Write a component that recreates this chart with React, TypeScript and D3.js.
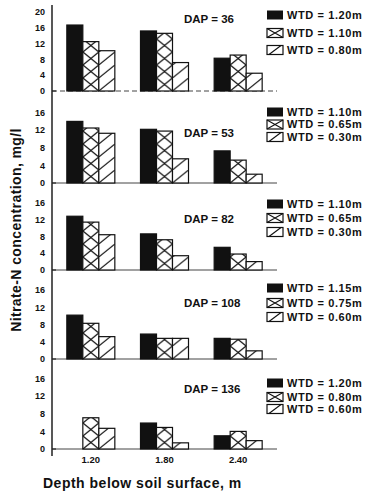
import React, { useRef, useEffect } from 'react';
import * as d3 from 'd3';

const depths = ['1.20', '1.80', '2.40'];
const daps = [36, 53, 82, 108, 136];
const series = ['high', 'mid', 'low'];
const wtdLabels = [
  ['1.20', '1.10', '0.80'],
  ['1.10', '0.65', '0.30'],
  ['1.10', '0.65', '0.30'],
  ['1.15', '0.75', '0.60'],
  ['1.20', '0.80', '0.60']
];
// nitrate-N, mg/l, per panel, per depth
const highValues = [
  [16.7, 15.2, 8.3],
  [14.0, 12.2, 7.3],
  [12.8, 8.6, 5.4],
  [10.2, 5.8, 4.8],
  [0, 5.9, 3.0]
];
const midValues = [
  [12.5, 14.6, 9.1],
  [12.5, 11.8, 5.2],
  [11.4, 7.2, 3.8],
  [8.3, 4.8, 4.6],
  [7.1, 4.9, 4.0]
];
const lowValues = [
  [10.2, 7.2, 4.5],
  [11.3, 5.5, 2.0],
  [8.4, 3.4, 2.0],
  [5.2, 4.8, 1.9],
  [4.7, 1.4, 1.9]
];
const yTicksTop = [0, 4, 8, 12, 16, 20];
const yTicks = [0, 4, 8, 12, 16];

const width = 373;
const height = 497;
const axisX = 52;
const panelBase = [91, 183, 270, 359, 449];
const panelUnit = [3.95, 4.4, 4.2, 4.3, 4.4];
const dapOffset = [68, 46, 47, 52, 56];
const legendRows = [
  [15, 33, 50],
  [112, 124.5, 137],
  [204, 218, 232],
  [288, 303, 317],
  [383, 397, 409]
];
const font = '"Liberation Sans", Arial, sans-serif';

const NitrateChart = () => {
  const svgRef = useRef(null);

  useEffect(() => {
    const svg = d3.select(svgRef.current);
    svg.selectAll('*').remove();
    svg.attr('width', width).attr('height', height).attr('viewBox', `0 0 ${width} ${height}`);
    const defs = svg.append('defs');

    const xScale = d3.scaleBand().domain(depths).range([54, 275]);
    const xSub = d3.scaleBand().domain(series).range([0, 48]);
    const barW = xSub.bandwidth();
    const groupX = d => xScale(d) + xScale.bandwidth() / 2 - 24;

    const allValues = [highValues, midValues, lowValues];

    // y axis line
    svg.append('line')
      .attr('x1', axisX).attr('x2', axisX)
      .attr('y1', 5).attr('y2', 456)
      .attr('stroke', '#111').attr('stroke-width', 1.4);

    daps.forEach((dap, i) => {
      const base = panelBase[i];
      const yScale = d3.scaleLinear().domain([0, 20]).range([base, base - 20 * panelUnit[i]]);
      const g = svg.append('g');

      const ticks = i === 0 ? yTicksTop : yTicks;
      g.selectAll('text.tick')
        .data(ticks)
        .enter()
        .append('text')
        .attr('class', 'tick')
        .attr('x', 45)
        .attr('y', d => yScale(d))
        .attr('dy', '0.35em')
        .attr('text-anchor', 'end')
        .style('font', `bold 9px ${font}`)
        .attr('fill', '#111')
        .text(d => d);

      g.append('line')
        .attr('x1', axisX).attr('x2', 277)
        .attr('y1', base).attr('y2', base)
        .attr('stroke', '#444').attr('stroke-width', 1)
        .attr('stroke-dasharray', i === 0 ? '5,3' : null);
      g.append('line')
        .attr('x1', axisX).attr('x2', axisX + 4)
        .attr('y1', base).attr('y2', base)
        .attr('stroke', '#111');

      const bars = [];
      series.forEach((s, si) => {
        depths.forEach((d, di) => {
          bars.push({ s, si, d, di, v: allValues[si][i][di] });
        });
      });

      bars.forEach(b => {
        if (b.si === 0) return;
        const id = `p-${i}-${b.si}-${b.di}`;
        const bx = groupX(b.d) + xSub(b.s);
        const pat = defs.append('pattern')
          .attr('id', id)
          .attr('patternUnits', 'userSpaceOnUse')
          .attr('x', bx).attr('y', base)
          .attr('width', barW).attr('height', 13);
        pat.append('rect').attr('width', barW).attr('height', 13).attr('fill', '#fff');
        if (b.si === 1) {
          pat.append('path')
            .attr('d', `M0,0L${barW},13M${barW},0L0,13`)
            .attr('stroke', '#111').attr('stroke-width', 1.3).attr('fill', 'none');
        } else {
          pat.append('path')
            .attr('d', `M0,13L${barW},0`)
            .attr('stroke', '#111').attr('stroke-width', 1.1).attr('fill', 'none');
        }
      });

      g.selectAll('rect.bar')
        .data(bars.filter(b => b.v > 0))
        .enter()
        .append('rect')
        .attr('class', 'bar')
        .attr('x', b => groupX(b.d) + xSub(b.s))
        .attr('y', b => yScale(b.v))
        .attr('width', barW)
        .attr('height', b => base - yScale(b.v))
        .attr('fill', b => (b.si === 0 ? '#111' : `url(#p-${i}-${b.si}-${b.di})`))
        .attr('stroke', '#111')
        .attr('stroke-width', 1.2);

      g.append('text')
        .attr('x', 184)
        .attr('y', base - dapOffset[i])
        .style('font', `bold 11.5px ${font}`)
        .attr('fill', '#111')
        .text(`DAP = ${dap}`);

      // legend
      legendRows[i].forEach((ly, si) => {
        const lx = 267;
        if (si === 0) {
          g.append('rect').attr('x', lx).attr('y', ly - 4.5).attr('width', 16).attr('height', 9).attr('fill', '#111');
        } else {
          g.append('rect').attr('x', lx).attr('y', ly - 4.5).attr('width', 16).attr('height', 9)
            .attr('fill', '#fff').attr('stroke', '#111').attr('stroke-width', 1.2);
          const p = si === 1
            ? `M${lx},${ly - 4.5}L${lx + 16},${ly + 4.5}M${lx + 16},${ly - 4.5}L${lx},${ly + 4.5}`
            : `M${lx + 2},${ly + 4.5}L${lx + 14},${ly - 4.5}`;
          g.append('path').attr('d', p).attr('stroke', '#111').attr('stroke-width', 1.1).attr('fill', 'none');
        }
        g.append('text')
          .attr('x', lx + 20)
          .attr('y', ly)
          .attr('dy', '0.35em')
          .style('font', `bold 11px ${font}`)
          .style('letter-spacing', '0.6px')
          .attr('fill', '#111')
          .text(`WTD = ${wtdLabels[i][si]}m`);
      });
    });

    svg.selectAll('text.xtick')
      .data(depths)
      .enter()
      .append('text')
      .attr('class', 'xtick')
      .attr('x', d => xScale(d) + xScale.bandwidth() / 2)
      .attr('y', 463)
      .attr('text-anchor', 'middle')
      .style('font', `bold 9.5px ${font}`)
      .attr('fill', '#111')
      .text(d => d);

    svg.append('text')
      .attr('x', 43)
      .attr('y', 488)
      .style('font', `bold 14px ${font}`)
      .style('letter-spacing', '0.5px')
      .attr('fill', '#111')
      .text('Depth below soil surface, m');

    svg.append('text')
      .attr('transform', 'translate(21,230) rotate(-90)')
      .attr('text-anchor', 'middle')
      .style('font', `bold 14px ${font}`)
      .style('letter-spacing', '0.4px')
      .attr('fill', '#111')
      .text('Nitrate-N concentration, mg/l');
  }, []);

  return (
    <div style={{ position: 'absolute', left: 0, top: 0, width, height, background: '#fff' }}>
      <svg ref={svgRef} style={{ display: 'block' }}></svg>
    </div>
  );
};

export default function App() {
  return <NitrateChart />;
}
